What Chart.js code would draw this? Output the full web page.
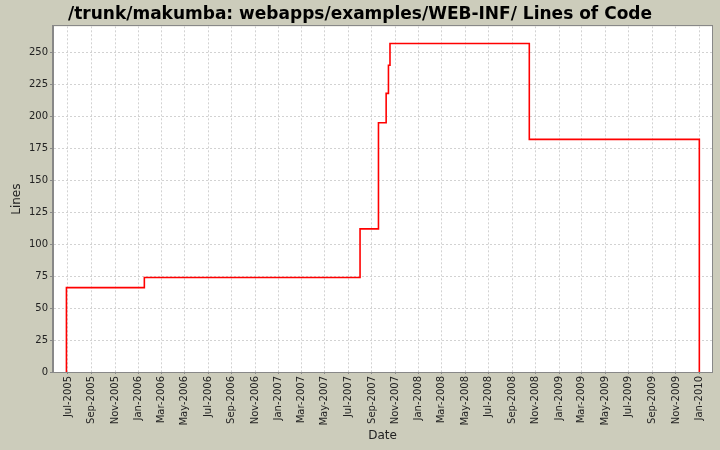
<!DOCTYPE html>
<html>
<head>
<meta charset="utf-8">
<script src="https://cdn.jsdelivr.net/npm/chart.js@4"></script>
<style>
  html, body { margin: 0; padding: 0; background: #ccccbb; }
  canvas { display: block; }
</style>
</head>
<body>
<canvas id="locChart" width="720" height="450"></canvas>
<script>
// step points: date the line count changed, and the new count
const changeDates = ['2005-06-27', '2005-06-27', '2006-01-16', '2007-08-01', '2007-09-18',
                     '2007-10-08', '2007-10-14', '2007-10-18', '2008-10-15', '2010-01-01'];
const lineCounts = [0, 66, 74, 112, 195, 218, 240, 257, 182, 0];

const tickDates = ['2005-07-01', '2005-09-01', '2005-11-01', '2006-01-01', '2006-03-01', '2006-05-01',
                   '2006-07-01', '2006-09-01', '2006-11-01', '2007-01-01', '2007-03-01', '2007-05-01',
                   '2007-07-01', '2007-09-01', '2007-11-01', '2008-01-01', '2008-03-01', '2008-05-01',
                   '2008-07-01', '2008-09-01', '2008-11-01', '2009-01-01', '2009-03-01', '2009-05-01',
                   '2009-07-01', '2009-09-01', '2009-11-01', '2010-01-01'];
const yTicks = [0, 25, 50, 75, 100, 125, 150, 175, 200, 225, 250];
const monthNames = ['Jan','Feb','Mar','Apr','May','Jun','Jul','Aug','Sep','Oct','Nov','Dec'];

const ts = d => Date.parse(d + 'T00:00:00Z');
const fmt = v => {
    const d = new Date(v);
    return monthNames[d.getUTCMonth()] + '-' + d.getUTCFullYear();
}

const points = changeDates.map((d, i) => ({x: ts(d), y: lineCounts[i]}));

const tickFont = {family: 'DejaVu Sans', size: 10};
const gridColor = '#d2d2d2';
const axisGrey = '#888888';

const frame = {
    id: 'frame',
    beforeDraw(chart) {
        const ctx = chart.ctx, a = chart.chartArea;
        ctx.save();
        ctx.fillStyle = '#ccccbb';
        ctx.fillRect(0, 0, chart.width, chart.height);
        ctx.fillStyle = '#ffffff';
        ctx.fillRect(a.left, a.top, a.right - a.left, a.bottom - a.top);
        ctx.restore();
    },
    afterDraw(chart) {
        const ctx = chart.ctx, a = chart.chartArea;
        ctx.save();
        ctx.strokeStyle = axisGrey;
        ctx.lineWidth = 1;
        ctx.strokeRect(Math.round(a.left) - 0.5, Math.round(a.top) - 0.5,
                       Math.round(a.right - a.left) + 1, Math.round(a.bottom - a.top) + 1);
        ctx.restore();
    }
}

new Chart(document.getElementById('locChart').getContext('2d'), {
    type: 'line',
    data: {
        datasets: [{
            label: 'Lines',
            data: points,
            stepped: true,
            borderColor: '#ff0000',
            borderWidth: 1.6,
            pointRadius: 0,
            fill: false
        }]
    },
    options: {
        responsive: false,
        animation: false,
        devicePixelRatio: 1,
        layout: {padding: {left: 8, right: 8, top: 0, bottom: 0}},
        plugins: {
            legend: {display: false},
            tooltip: {enabled: false},
            title: {
                display: true,
                text: '/trunk/makumba: webapps/examples/WEB-INF/ Lines of Code',
                color: '#000000',
                font: {family: 'DejaVu Sans', size: 17, weight: 'bold'},
                padding: {top: 4, bottom: 1.9}
            }
        },
        scales: {
            x: {
                type: 'linear',
                min: ts('2005-05-23'),
                max: ts('2010-02-03'),
                afterBuildTicks: s => { s.ticks = tickDates.map(d => ({value: ts(d)})) },
                afterFit: s => { s.height = 78 },
                ticks: {
                    autoSkip: false,
                    minRotation: 90,
                    maxRotation: 90,
                    padding: 2,
                    color: '#222222',
                    font: tickFont,
                    callback: v => fmt(v)
                },
                grid: {color: gridColor, tickColor: axisGrey, tickLength: 2, tickBorderDash: []},
                border: {color: axisGrey, dash: [2, 2]},
                title: {
                    display: true, text: 'Date', color: '#222222',
                    font: {family: 'DejaVu Sans', size: 12},
                    padding: {top: 0, bottom: 7}
                }
            },
            y: {
                min: 0,
                max: 270.5,
                afterBuildTicks: s => { s.ticks = yTicks.map(v => ({value: v})) },
                afterFit: s => { s.width = 45 },
                ticks: {padding: 2, color: '#222222', font: tickFont},
                grid: {color: gridColor, tickColor: axisGrey, tickLength: 3, tickBorderDash: []},
                border: {color: axisGrey, dash: [2, 2]},
                title: {
                    display: true, text: 'Lines', color: '#222222',
                    font: {family: 'DejaVu Sans', size: 12},
                    padding: {top: 2, bottom: 0}
                }
            }
        }
    },
    plugins: [frame]
})
</script>
</body>
</html>
